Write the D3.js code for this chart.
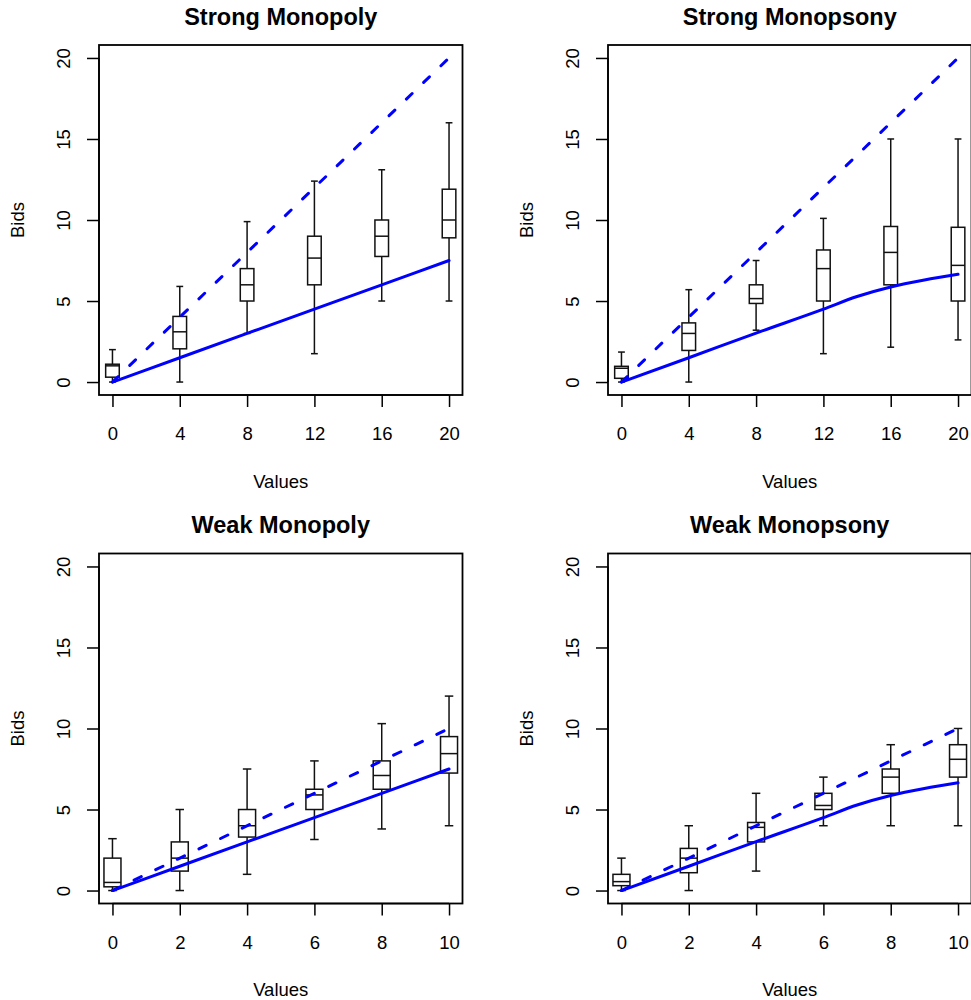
<!DOCTYPE html>
<html>
<head>
<meta charset="utf-8">
<script src="https://cdn.jsdelivr.net/npm/d3@7"></script>
<style>
  html, body { margin: 0; padding: 0; background: #fff; }
  svg { display: block; }
  text { font-family: "Liberation Sans", Arial, Helvetica, sans-serif; fill: #000; }
</style>
</head>
<body>
<div id="chart"></div>
<script>
// ---------------- DATA ----------------
const panelTitles = ["Strong Monopoly", "Strong Monopsony", "Weak Monopoly", "Weak Monopsony"];
const xLabel = "Values";
const yLabel = "Bids";

const strongValues = [0, 4, 8, 12, 16, 20];
const weakValues = [0, 2, 4, 6, 8, 10];
const yTicks = [0, 5, 10, 15, 20];

// each box: [lower whisker, Q1, median, Q3, upper whisker]
const strongMonopolyBoxes = [
  [0, 0.3, 1.0, 1.1, 2.0],
  [0, 2.05, 3.1, 4.05, 5.9],
  [3.0, 5.0, 6.0, 7.0, 9.9],
  [1.75, 6.0, 7.65, 9.0, 12.4],
  [5.0, 7.75, 9.0, 10.0, 13.1],
  [5.0, 8.9, 10.0, 11.9, 16.0]
];
const strongMonopsonyBoxes = [
  [0, 0.23, 0.85, 0.97, 1.85],
  [0, 1.95, 3.0, 3.65, 5.7],
  [3.2, 4.85, 5.15, 6.0, 7.5],
  [1.75, 5.0, 7.0, 8.15, 10.1],
  [2.15, 6.0, 8.0, 9.6, 15.0],
  [2.6, 5.0, 7.2, 9.55, 15.0]
];
const weakMonopolyBoxes = [
  [0, 0.23, 0.5, 2.0, 3.2],
  [0, 1.2, 2.0, 3.0, 5.0],
  [1.0, 3.3, 4.0, 5.0, 7.5],
  [3.15, 5.0, 5.9, 6.25, 8.0],
  [3.8, 6.25, 7.1, 8.0, 10.3],
  [4.0, 7.25, 8.45, 9.5, 12.0]
];
const weakMonopsonyBoxes = [
  [0, 0.3, 0.55, 1.0, 2.0],
  [0, 1.1, 2.0, 2.6, 4.0],
  [1.2, 3.0, 3.9, 4.2, 6.0],
  [4.0, 5.0, 5.25, 6.0, 7.0],
  [4.0, 6.0, 7.0, 7.5, 9.0],
  [4.0, 7.0, 8.1, 9.0, 10.0]
];

// truthful bidding (dashed) lines
const strongTruthX = [0, 20];
const strongTruthY = [0, 20];
const weakTruthX = [0, 10];
const weakTruthY = [0, 10];

// equilibrium bid (solid) lines
const strongMonopolyEqX = [0, 4, 8, 12, 16, 20];
const strongMonopolyEqY = [0, 1.5, 3.0, 4.5, 6.0, 7.5];
const strongMonopsonyEqX = [0, 4, 8, 12, 14, 16, 18, 20];
const strongMonopsonyEqY = [0, 1.5, 3.02, 4.5, 5.28, 5.87, 6.3, 6.65];
const weakMonopolyEqX = [0, 2, 4, 6, 8, 10];
const weakMonopolyEqY = [0, 1.5, 3.0, 4.5, 6.0, 7.5];
const weakMonopsonyEqX = [0, 2, 4, 6, 7, 8, 9, 10];
const weakMonopsonyEqY = [0, 1.5, 3.02, 4.5, 5.28, 5.87, 6.3, 6.65];

// ---------------- LAYOUT ----------------
const W = 971, H = 1000;
const OFF_X = 509, OFF_Y = 508.5;
const plot = { left: 99, top: 45, right: 462.5, bottom: 395 };

const panels = [
  { title: panelTitles[0], col: 0, row: 0, values: strongValues, boxes: strongMonopolyBoxes,
    tX: strongTruthX, tY: strongTruthY, eX: strongMonopolyEqX, eY: strongMonopolyEqY, boxW: 13.6 },
  { title: panelTitles[1], col: 1, row: 0, values: strongValues, boxes: strongMonopsonyBoxes,
    tX: strongTruthX, tY: strongTruthY, eX: strongMonopsonyEqX, eY: strongMonopsonyEqY, boxW: 13.6 },
  { title: panelTitles[2], col: 0, row: 1, values: weakValues, boxes: weakMonopolyBoxes,
    tX: weakTruthX, tY: weakTruthY, eX: weakMonopolyEqX, eY: weakMonopolyEqY, boxW: 17 },
  { title: panelTitles[3], col: 1, row: 1, values: weakValues, boxes: weakMonopsonyBoxes,
    tX: weakTruthX, tY: weakTruthY, eX: weakMonopsonyEqX, eY: weakMonopsonyEqY, boxW: 17 }
];

const svg = d3.select("#chart").append("svg")
  .attr("width", W).attr("height", H)
  .attr("viewBox", `0 0 ${W} ${H}`);

svg.append("rect").attr("width", W).attr("height", H).attr("fill", "#fff");

panels.forEach(p => {
  const g = svg.append("g")
    .attr("transform", `translate(${p.col * OFF_X},${p.row * OFF_Y})`);

  const xmax = d3.max(p.values);
  const xpad = xmax * 0.04;
  const x = d3.scaleLinear().domain([-xpad, xmax + xpad]).range([plot.left, plot.right]);
  const y = d3.scaleLinear().domain([-0.8, 20.8]).range([plot.bottom, plot.top]);

  // boxes
  const bw = p.boxW, cw = bw / 2;
  const bg = g.append("g").attr("stroke", "#111").attr("stroke-width", 1.5).attr("fill", "none");
  p.boxes.forEach((b, i) => {
    const cx = x(p.values[i]);
    const [lo, q1, med, q3, hi] = b;
    bg.append("line").attr("x1", cx).attr("x2", cx).attr("y1", y(q3)).attr("y2", y(hi));
    bg.append("line").attr("x1", cx).attr("x2", cx).attr("y1", y(q1)).attr("y2", y(lo));
    bg.append("line").attr("x1", cx - cw / 2).attr("x2", cx + cw / 2).attr("y1", y(hi)).attr("y2", y(hi));
    bg.append("line").attr("x1", cx - cw / 2).attr("x2", cx + cw / 2).attr("y1", y(lo)).attr("y2", y(lo));
    bg.append("rect").attr("x", cx - bw / 2).attr("y", y(q3))
      .attr("width", bw).attr("height", Math.max(0.5, y(q1) - y(q3)))
      .attr("fill", "#fff");
    bg.append("line").attr("x1", cx - bw / 2).attr("x2", cx + bw / 2).attr("y1", y(med)).attr("y2", y(med));
  });

  // lines
  const line = d3.line().x(d => x(d[0])).y(d => y(d[1]));
  const lineCurve = d3.line().x(d => x(d[0])).y(d => y(d[1])).curve(d3.curveMonotoneX);

  g.append("path")
    .datum(p.tX.map((v, i) => [v, p.tY[i]]))
    .attr("d", line)
    .attr("fill", "none").attr("stroke", "#0000ff").attr("stroke-width", 3)
    .attr("stroke-linecap", "round")
    .attr("stroke-dasharray", "8,16");

  g.append("path")
    .datum(p.eX.map((v, i) => [v, p.eY[i]]))
    .attr("d", lineCurve)
    .attr("fill", "none").attr("stroke", "#0000ff").attr("stroke-width", 3)
    .attr("stroke-linecap", "round");

  // frame
  g.append("rect")
    .attr("x", plot.left).attr("y", plot.top)
    .attr("width", plot.right - plot.left).attr("height", plot.bottom - plot.top)
    .attr("fill", "none").attr("stroke", "#000").attr("stroke-width", 1.8);

  // x axis
  const xa = g.append("g").attr("transform", `translate(0,${plot.bottom})`)
    .call(d3.axisBottom(x).tickValues(p.values).tickSize(12).tickPadding(0).tickFormat(d3.format("d")));
  xa.select(".domain").attr("d", `M${x(p.values[0])},0H${x(xmax)}`).attr("stroke-width", 1.5);
  xa.selectAll(".tick line").attr("stroke-width", 1.5);
  xa.selectAll(".tick text").attr("y", 45).attr("dy", null)
    .style("font-size", "18.5px").style("font-family", "'Liberation Sans', Arial, sans-serif");

  // y axis
  const ya = g.append("g").attr("transform", `translate(${plot.left},0)`)
    .call(d3.axisLeft(y).tickValues(yTicks).tickSize(12).tickFormat(d3.format("d")));
  ya.select(".domain").attr("d", `M0,${y(0)}V${y(20)}`).attr("stroke-width", 1.5);
  ya.selectAll(".tick line").attr("stroke-width", 1.5);
  ya.selectAll(".tick text")
    .attr("x", null).attr("dy", null)
    .attr("text-anchor", "middle")
    .attr("transform", "translate(-29,0) rotate(-90)")
    .style("font-size", "18.5px").style("font-family", "'Liberation Sans', Arial, sans-serif");

  // labels
  g.append("text")
    .attr("x", (plot.left + plot.right) / 2).attr("y", 487.5)
    .attr("text-anchor", "middle").style("font-size", "18.5px")
    .text(xLabel);
  g.append("text")
    .attr("transform", `translate(23.5,${(plot.top + plot.bottom) / 2}) rotate(-90)`)
    .attr("text-anchor", "middle").style("font-size", "18.5px")
    .text(yLabel);
  g.append("text")
    .attr("x", (plot.left + plot.right) / 2).attr("y", 24.5)
    .attr("text-anchor", "middle").style("font-size", "23.5px").style("font-weight", "bold")
    .text(p.title);
});
</script>
</body>
</html>
